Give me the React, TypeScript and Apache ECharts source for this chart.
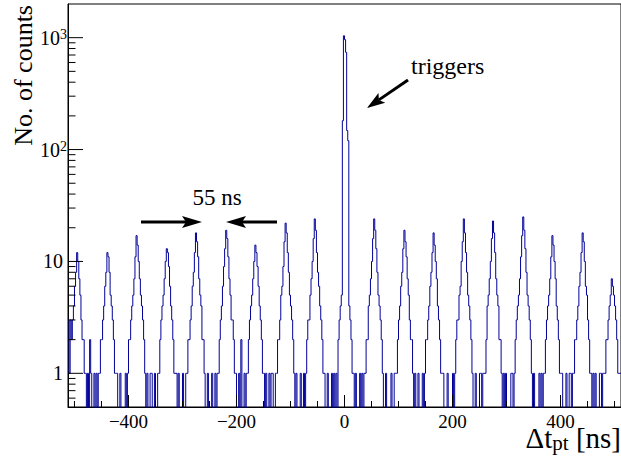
import React, { useEffect, useRef } from "react";
import * as echarts from "echarts";

// Histogram: 2-ns bins from -512 ns to +512 ns (512 bins)
const binLowEdge = -512;
const binWidth = 2;
const counts: number[] = [
  // peak at -495 ns
  3, 1, 3, 2, 3, 4, 6, 8, 12, 10, 7, 5, 3, 2, 2, 1, 1,
  0, 1, 0, 2, 1, 0, 0, 1, 0, 1, 0,
  // -440
  1, 1, 2, 2, 3, 4, 6, 8, 12, 11, 8, 5, 4, 3, 2, 1, 1,
  1, 0, 0, 1, 0, 0, 0, 0, 1, 0,
  // -385
  1, 2, 2, 3, 4, 5, 7, 11, 17, 14, 10, 7, 5, 4, 3, 2, 1,
  0, 1, 0, 0, 1, 1, 0, 0, 1, 0, 0,
  // -330
  1, 1, 2, 3, 4, 5, 7, 10, 13, 12, 9, 6, 4, 3, 2, 1, 1,
  1, 0, 1, 0, 0, 0, 1, 0, 0, 1,
  // -275
  1, 2, 2, 3, 4, 6, 8, 12, 18, 15, 11, 7, 5, 4, 2, 2, 1,
  0, 0, 1, 0, 0, 0, 1, 0, 0, 1, 0,
  // -220
  1, 1, 2, 3, 4, 6, 9, 13, 19, 16, 11, 7, 5, 3, 3, 2, 1,
  1, 0, 0, 1, 0, 2, 0, 0, 1, 0,
  // -165
  1, 1, 2, 3, 4, 5, 7, 10, 14, 12, 9, 6, 4, 3, 2, 1, 1,
  0, 1, 0, 0, 1, 0, 1, 1, 0, 0, 1,
  // -110
  1, 2, 2, 3, 5, 6, 9, 15, 22, 18, 12, 8, 5, 4, 3, 2, 1,
  0, 1, 0, 0, 0, 1, 0, 0, 1, 0,
  // -55
  1, 2, 3, 3, 5, 7, 10, 16, 24, 19, 12, 8, 6, 4, 3, 2, 1,
  1, 0, 0, 1, 0, 0, 0, 1, 0, 1, 0,
  // 0 (triggers)
  1, 0, 2, 3, 4, 5, 181, 1040, 960, 740, 148, 120, 4, 3, 2, 1, 1,
  0, 1, 0, 0, 0, 1, 0, 1, 0, 1,
  // 55
  1, 2, 2, 4, 5, 7, 10, 16, 24, 19, 13, 8, 5, 4, 3, 2, 1,
  0, 0, 1, 0, 0, 0, 0, 1, 0, 0, 1,
  // 110
  1, 1, 2, 3, 4, 6, 8, 13, 19, 15, 11, 7, 5, 3, 2, 2, 1,
  0, 1, 0, 0, 1, 0, 0, 0, 1, 0,
  // 165
  1, 2, 2, 3, 4, 6, 8, 12, 18, 14, 10, 7, 4, 3, 2, 1, 1,
  1, 0, 0, 0, 1, 0, 0, 0, 0, 1, 0,
  // 220
  1, 2, 3, 3, 5, 6, 10, 15, 24, 18, 12, 8, 5, 4, 3, 2, 1,
  0, 0, 1, 0, 0, 0, 1, 1, 0, 1,
  // 275
  1, 1, 2, 4, 5, 7, 10, 16, 23, 18, 12, 7, 5, 4, 2, 2, 1,
  0, 1, 0, 1, 0, 0, 0, 0, 1, 1, 0,
  // 330
  1, 2, 3, 4, 5, 7, 11, 17, 25, 19, 13, 8, 5, 4, 3, 2, 1,
  0, 1, 0, 0, 0, 0, 1, 0, 1, 0,
  // 385
  1, 1, 2, 3, 4, 5, 7, 11, 17, 14, 10, 7, 4, 3, 2, 1, 1,
  1, 0, 0, 0, 1, 0, 0, 1, 1, 0, 1,
  // 440
  1, 2, 2, 3, 4, 6, 8, 12, 18, 15, 10, 6, 5, 3, 2, 1, 1,
  0, 1, 0, 1, 0, 0, 0, 1, 1, 0,
  // 495
  1, 1, 1, 2, 2, 3, 4, 5, 7, 6, 5, 4, 3, 2, 1, 1, 1,
];

const X_MIN = -512;
const X_MAX = 512;
const Y_MIN = 0.5;
const Y_MAX = 2000;

const xMajorTicks = [-400, -200, 0, 200, 400];
const xMinorTicks = [
  -500, -450, -350, -300, -250, -150, -100, -50, 50, 100, 150, 250, 300, 350, 450, 500,
];
const yMajorTicks = [1, 10, 100, 1000];
const yMinorTicks = [
  0.6, 0.7, 0.8, 0.9, 2, 3, 4, 5, 6, 7, 8, 9, 20, 30, 40, 50, 60, 70, 80, 90,
  200, 300, 400, 500, 600, 700, 800, 900,
];

const FONT = "Liberation Serif";
const EMPTY_BIN_DRAW = 0.1; // empty bins drawn below the log axis floor (clipped)

function arrow(x1: number, y1: number, x2: number, y2: number, headLen: number, headHalf: number) {
  const dx = x2 - x1;
  const dy = y2 - y1;
  const L = Math.sqrt(dx * dx + dy * dy);
  const ux = dx / L;
  const uy = dy / L;
  const px = -uy;
  const py = ux;
  const bx = x2 - ux * headLen;
  const by = y2 - uy * headLen;
  const nx = x2 - ux * headLen * 0.8;
  const ny = y2 - uy * headLen * 0.8;
  return [
    {
      type: "line",
      shape: { x1, y1, x2: nx, y2: ny },
      style: { stroke: "#000", lineWidth: 3 },
      silent: true,
    },
    {
      type: "polygon",
      shape: {
        points: [
          [x2, y2],
          [bx + px * headHalf, by + py * headHalf],
          [nx, ny],
          [bx - px * headHalf, by - py * headHalf],
        ],
      },
      style: { fill: "#000" },
      silent: true,
    },
  ];
}

export default function App() {
  const ref = useRef<HTMLDivElement>(null);

  useEffect(() => {
    if (!ref.current) return;
    const chart = echarts.init(ref.current, null, { renderer: "svg" });

    const histData: number[][] = counts.map((c, i) => [
      binLowEdge + i * binWidth,
      c > 0 ? c : EMPTY_BIN_DRAW,
    ]);
    const last = counts[counts.length - 1];
    histData.push([binLowEdge + counts.length * binWidth, last > 0 ? last : EMPTY_BIN_DRAW]);

    const tickData: number[][] = [
      ...yMajorTicks.map((v) => [X_MIN, v, 15, 0]),
      ...yMinorTicks.map((v) => [X_MIN, v, 7.5, 0]),
      ...xMajorTicks.map((v) => [v, Y_MIN, 12, 1]),
      ...xMinorTicks.map((v) => [v, Y_MIN, 6, 1]),
    ];

    const option: any = {
      animation: false,
      backgroundColor: "#fff",
      textStyle: { fontFamily: FONT },
      grid: {
        left: 68,
        right: 0,
        top: 4,
        bottom: 49,
        show: true,
        borderColor: "#000",
        borderWidth: 1,
        backgroundColor: "transparent",
        containLabel: false,
        outerBoundsMode: "none",
      },
      xAxis: {
        type: "value",
        min: X_MIN,
        max: X_MAX,
        splitNumber: 5,
        axisLine: { show: true, onZero: false, lineStyle: { color: "#000", width: 1 } },
        axisTick: { show: false },
        minorTick: { show: false },
        splitLine: { show: false },
        axisLabel: {
          showMinLabel: false,
          showMaxLabel: false,
          margin: 5,
          color: "#000",
          fontFamily: FONT,
          fontSize: 19,
          formatter: (v: number) => (v < 0 ? "\u2212" + Math.abs(v) : String(v)),
        },
      },
      yAxis: {
        type: "log",
        logBase: 10,
        min: Y_MIN,
        max: Y_MAX,
        axisLine: { show: true, onZero: false, lineStyle: { color: "#000", width: 1 } },
        axisTick: { show: false },
        minorTick: { show: false },
        splitLine: { show: false },
        axisLabel: {
          showMinLabel: false,
          showMaxLabel: false,
          margin: 1,
          color: "#000",
          fontFamily: FONT,
          fontSize: 20,
          formatter: (v: number) => {
            const e = Math.round(Math.log10(v));
            if (Math.abs(v - Math.pow(10, e)) > 1e-6 * v) return "";
            if (e === 0) return "{b|1}";
            if (e === 1) return "{b|10}";
            return "{c|10}{sup|" + e + "}";
          },
          rich: {
            b: { fontFamily: FONT, fontSize: 20, color: "#000", padding: [0, 4, 0, 0], verticalAlign: "bottom" },
            c: { fontFamily: FONT, fontSize: 20, color: "#000", verticalAlign: "bottom" },
            sup: { fontFamily: FONT, fontSize: 14, color: "#000", verticalAlign: "top", padding: [0, 0, 6, 0] },
          },
        },
      },
      series: [
        {
          type: "line",
          data: histData,
          step: "end",
          symbol: "none",
          showSymbol: false,
          clip: true,
          lineStyle: { color: "#000099", width: 1 },
          itemStyle: { color: "#000099" },
          emphasis: { disabled: true },
          silent: true,
          z: 2,
        },
        {
          type: "custom",
          data: tickData,
          silent: true,
          z: 3,
          renderItem: (_params: any, api: any) => {
            const p = api.coord([api.value(0), api.value(1)]);
            const len = api.value(2);
            const dir = api.value(3);
            return {
              type: "line",
              shape:
                dir === 0
                  ? { x1: p[0], y1: p[1], x2: p[0] + len, y2: p[1] }
                  : { x1: p[0], y1: p[1], x2: p[0], y2: p[1] - len },
              style: { stroke: "#000", lineWidth: 1 },
            };
          },
        },
      ],
      graphic: [
        {
          type: "text",
          x: 23,
          y: 5,
          rotation: Math.PI / 2,
          style: {
            text: "No. of counts",
            fontFamily: FONT,
            fontSize: 26,
            fill: "#000",
            align: "right",
            verticalAlign: "middle",
          },
        },
        {
          type: "text",
          x: 217,
          y: 197,
          style: {
            text: "55 ns",
            fontFamily: FONT,
            fontSize: 23,
            fill: "#000",
            align: "center",
            verticalAlign: "middle",
          },
        },
        {
          type: "text",
          x: 411,
          y: 66,
          style: {
            text: "triggers",
            fontFamily: FONT,
            fontSize: 24,
            fill: "#000",
            align: "left",
            verticalAlign: "middle",
          },
        },
        {
          type: "text",
          x: 621,
          y: 438,
          style: {
            text: "{a|\u0394t}{s|pt}{a| [ns]}",
            align: "right",
            verticalAlign: "middle",
            rich: {
              a: { fontFamily: FONT, fontSize: 29, fill: "#000", lineHeight: 30, verticalAlign: "middle" },
              s: { fontFamily: FONT, fontSize: 21, fill: "#000", lineHeight: 21, verticalAlign: "bottom" },
            },
          },
        },
        ...arrow(141, 222, 202, 222, 20, 6),
        ...arrow(277, 222, 226, 222, 20, 6),
        ...arrow(408, 80, 367, 108, 18, 6),
      ],
    };

    chart.setOption(option);
    return () => chart.dispose();
  }, []);

  return (
    <div
      ref={ref}
      style={{ position: "fixed", left: 0, top: 0, width: 621, height: 456, background: "#fff" }}
    />
  );
}
